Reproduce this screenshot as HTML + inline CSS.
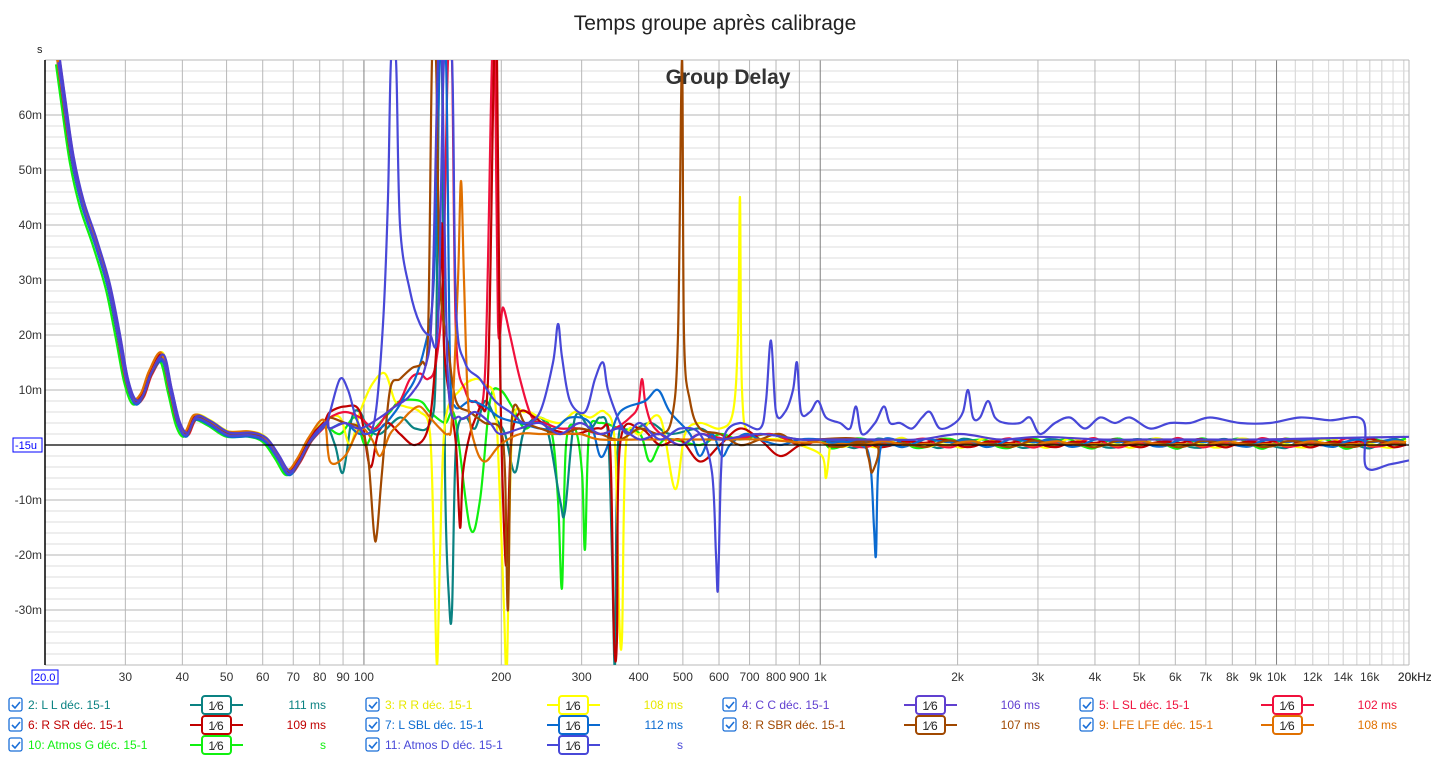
<!DOCTYPE html>
<html><head><meta charset="utf-8"><style>
body{margin:0;background:#fff;width:1431px;height:779px;overflow:hidden;font-family:"Liberation Sans",sans-serif}
svg text{font-family:"Liberation Sans",sans-serif}
</style></head><body>
<svg id="s" width="1431" height="779" xmlns="http://www.w3.org/2000/svg">
<text x="715" y="30" font-size="21" text-anchor="middle" fill="#222">Temps groupe après calibrage</text>
<g id="grid"></g>
<g id="curves" fill="none" stroke-width="2.2" stroke-linejoin="round"></g>
<line x1="45" y1="445" x2="1409" y2="445" stroke="#000" stroke-width="1.2"/>
<line x1="45" y1="60" x2="45" y2="665" stroke="#000" stroke-width="1.5"/>
<text x="728" y="84" font-size="21" font-weight="bold" text-anchor="middle" fill="#333">Group Delay</text>
<text x="37" y="53" font-size="11" fill="#222">s</text>
<rect x="13" y="438" width="29" height="14" fill="#fff" stroke="#00f"/>
<text x="15" y="449" font-size="11" fill="#00f">-15u</text>
<rect x="32" y="670" width="26" height="14" fill="#fff" stroke="#00f"/>
<text x="34" y="681" font-size="11" fill="#00f">20.0</text>
<g id="leg"></g>
</svg>
<script>
const NS="http://www.w3.org/2000/svg";
function el(p,t,a,txt){const e=document.createElementNS(NS,t);for(const k in a)e.setAttribute(k,a[k]);if(txt!==undefined)e.textContent=txt;p.appendChild(e);return e;}
const X0=45,K=456.3,Y0=445,S=5.5;
const fx=f=>X0+K*Math.log10(f/20);
const g=document.getElementById('grid');
for(let m=-38;m<=70;m+=2){const y=Y0-m*S;if(y<60||y>665)continue;el(g,'line',{x1:45,x2:1409,y1:y,y2:y,stroke:m%10==0?'#b4b4b4':'#dcdcdc','stroke-width':1});}
for(let m=-30;m<=60;m+=10){if(m==0)continue;el(g,'text',{x:42,y:Y0-m*S+4,'font-size':12,'text-anchor':'end',fill:'#333'},m+'m');}
const labs={30:'30',40:'40',50:'50',60:'60',70:'70',80:'80',90:'90',100:'100',200:'200',300:'300',400:'400',500:'500',600:'600',700:'700',800:'800',900:'900',1000:'1k',2000:'2k',3000:'3k',4000:'4k',5000:'5k',6000:'6k',7000:'7k',8000:'8k',9000:'9k',10000:'10k',12000:'12k',14000:'14k',16000:'16k',20000:'20kHz'};
const fs=[];for(let d=10;d<=10000;d*=10)for(let i=1;i<10;i++)fs.push(d*i);
fs.push(12000,14000,16000,20000);
for(const f of fs){if(f<=20||f>20000)continue;const x=fx(f);const major=[100,1000,10000].includes(f);
if(f<10000||major)el(g,'line',{x1:x,x2:x,y1:60,y2:665,stroke:major?'#808080':'#b8b8b8','stroke-width':1});
if(f>10000){for(const ff of[11000,12000,13000,14000,15000,16000,17000,18000,19000])el(g,'line',{x1:fx(ff),x2:fx(ff),y1:60,y2:665,stroke:'#dcdcdc'});}
if(labs[f])el(g,'text',{x:f==20000?x+1:x,y:681,'font-size':12,'text-anchor':'middle',fill:'#333'},labs[f]);}
el(g,'line',{x1:1409,x2:1409,y1:60,y2:665,stroke:'#b8b8b8'});
el(g,'line',{x1:45,x2:1409,y1:60,y2:60,stroke:'#b8b8b8'});
el(g,'line',{x1:45,x2:1409,y1:665,y2:665,stroke:'#b8b8b8'});
const start=[[58,70],[64,62],[72,52],[82,44],[95,37],[108,29],[118,20],[126,12],[134,8],[142,9],[150,13],[162,16],[170,10],[178,4],[186,2],[195,5],[210,4],[228,2],[250,2],[265,1],[277,-2],[288,-5],[298,-3],[310,1],[325,4]];
function jit(seed,off,a){const r=[];for(let x=830;x<=1409;x+=12){r.push([x,off+a*Math.sin(x*0.11+seed)*Math.sin(x*0.037+seed*2)]);}return r;}
const C={teal:'#0a8282',yel:'#ffff00',pur:'#5040d0',red:'#f0103c',dred:'#c00000',blue:'#0a6ad0',brown:'#a04800',orange:'#e07000',green:'#10f010',pur2:'#4848d8'};
const series=[
[C.green,[[340,2],[355,5],[365,0],[375,3],[390,6],[400,8],[420,8],[430,6],[445,4],[455,5],[470,-15],[480,-10],[490,8],[500,10],[512,7],[525,3],[540,5],[552,2],[558,-10],[562,-26],[566,0],[575,3],[582,-5],[585,-19],[589,2],[600,4],[620,3],[640,2],[650,-3],[665,1],[700,0],[720,2],[740,1],[770,2],[800,0],[820,1]].concat(jit(1,0.5,1.2))],
[C.teal,[[335,0],[343,-5],[352,5],[360,6],[368,3],[380,2],[400,5],[415,3],[430,4],[436,15],[439,70],[442,70],[445,-5],[449,-28],[452,-30],[456,0],[465,5],[475,3],[485,8],[495,5],[505,2],[515,-5],[525,3],[545,4],[560,-10],[565,-12],[575,5],[590,3],[600,5],[608,2],[612,-20],[615,-40],[618,0],[630,2],[650,4],[670,2],[700,3],[720,1],[760,2],[800,1],[820,1]].concat(jit(2,0.3,1.0))],
[C.yel,[[340,5],[350,0],[360,6],[372,11],[385,13],[395,8],[405,7],[420,6],[430,2],[434,-20],[437,-40],[440,-20],[445,4],[460,10],[475,12],[485,11],[495,8],[500,-10],[504,-30],[507,-40],[512,2],[525,6],[540,5],[560,4],[575,6],[590,5],[605,6],[615,0],[619,-30],[622,-35],[626,0],[640,2],[660,5],[675,-8],[685,2],[700,4],[720,3],[733,6],[738,20],[740,45],[742,10],[750,2],[780,1],[800,0],[822,-2],[826,-6],[830,0]].concat(jit(3,0.2,1.1))],
[C.red,[[330,5],[345,6],[360,5],[375,3],[388,6],[400,8],[410,12],[420,13],[428,12],[436,15],[443,30],[448,70],[452,70],[456,20],[465,10],[475,8],[485,13],[492,70],[495,70],[498,22],[503,25],[510,20],[520,12],[532,5],[545,4],[560,3],[580,3],[600,2],[615,3],[630,5],[638,7],[642,12],[646,7],[655,3],[680,0],[700,2],[730,1],[770,2],[800,0],[820,1]].concat(jit(4,0.3,1.0))],
[C.dred,[[330,6],[345,7],[360,6],[370,-4],[378,2],[388,4],[400,2],[415,0],[428,3],[435,14],[440,30],[442,40],[444,18],[450,8],[456,0],[460,-15],[463,-5],[470,2],[480,7],[488,12],[494,70],[497,70],[500,15],[504,-15],[507,-21],[511,0],[520,6],[535,5],[550,3],[575,2],[600,3],[610,0],[614,-35],[617,-35],[620,0],[640,3],[660,0],[680,1],[700,-3],[720,0],[740,3],[760,1],[780,-2],[800,0],[820,1]].concat(jit(5,0.4,0.9))],
[C.blue,[[330,3],[345,4],[360,2],[380,3],[395,6],[405,9],[415,12],[425,18],[432,25],[436,40],[440,70],[446,70],[450,15],[455,7],[470,8],[485,7],[500,5],[520,4],[540,3],[555,3],[570,5],[590,4],[600,-2],[608,0],[620,6],[645,8],[658,10],[670,6],[690,2],[700,-2],[712,2],[722,-2],[730,0],[745,2],[760,1],[780,0],[800,1],[820,1],[860,0],[870,-3],[874,-15],[876,-20],[878,-5],[884,1],[900,0]].concat(jit(6,0.5,0.9))],
[C.brown,[[330,5],[345,4],[360,3],[368,-2],[374,-16],[377,-16],[382,-5],[390,10],[400,12],[412,14],[422,15],[428,20],[432,70],[436,70],[440,30],[448,18],[456,8],[470,6],[485,4],[500,3],[505,-5],[508,-30],[512,5],[525,4],[540,3],[560,2],[580,3],[600,2],[620,1],[640,3],[660,2],[672,5],[678,20],[682,70],[684,20],[690,8],[700,3],[720,2],[740,0],[760,1],[780,2],[800,0],[820,1],[860,1],[868,-2],[872,-5],[876,0]].concat(jit(7,0.2,0.7))],
[C.orange,[[330,-3],[345,-2],[360,3],[372,1],[380,-2],[390,2],[400,4],[410,6],[420,7],[430,5],[440,3],[448,2],[452,5],[458,30],[461,48],[464,30],[468,8],[475,0],[485,-3],[500,0],[520,2],[540,2],[560,2],[580,2],[600,1],[640,1],[680,1],[720,1],[760,1],[800,0.5],[820,0.5]].concat(jit(8,0.2,0.5))],
[C.pur2,[[330,6],[340,12],[348,10],[356,5],[365,2],[375,5],[383,22],[388,45],[391,70],[396,70],[400,40],[410,28],[420,22],[430,20],[438,22],[444,70],[452,70],[456,25],[465,15],[480,12],[495,8],[510,6],[525,4],[540,6],[553,15],[558,22],[562,16],[570,8],[585,6],[595,12],[603,15],[608,10],[620,4],[628,2],[640,4],[660,1],[680,3],[700,2],[712,-5],[716,-20],[718,-26],[721,-5],[725,2],[740,4],[760,3],[766,8],[771,19],[776,6],[785,6],[793,10],[797,15],[801,6],[810,6],[818,8],[826,5],[840,4],[850,3],[856,7],[862,2],[875,4],[884,7],[890,4],[900,4],[912,3],[922,5],[930,6],[940,3],[955,4],[963,6],[968,10],[973,5],[980,5],[988,8],[995,5],[1005,4],[1020,4],[1030,5],[1040,2],[1055,4],[1070,5],[1085,3],[1100,5],[1115,4],[1130,5],[1150,3],[1170,4],[1190,4],[1210,5],[1240,4],[1270,4],[1300,5],[1330,4.5],[1363,4.5],[1366,-4],[1390,-3.5],[1409,-2.8]]],
[C.pur,[[330,3],[345,4],[360,3],[380,5],[395,7],[410,9],[425,14],[432,25],[438,70],[442,70],[448,12],[460,5],[475,6],[490,4],[500,2],[520,3],[540,4],[560,2],[580,4],[600,2],[620,3],[640,1],[660,2],[680,0],[700,2],[720,1],[760,2],[800,1],[820,1],[840,1],[880,1],[920,1],[960,2],[1000,1],[1040,1.5],[1100,1],[1150,1],[1200,1],[1260,1],[1320,1.2],[1409,1.5]]]
];
const cg=document.getElementById('curves');
function path(pts){pts=pts.map(p=>[p[0],Math.max(58,Math.min(667,Y0-p[1]*S))]);let d='M'+pts[0][0]+' '+pts[0][1];
for(let i=0;i<pts.length-1;i++){const p0=pts[i-1]||pts[i],p1=pts[i],p2=pts[i+1],p3=pts[i+2]||p2;
const c1=[p1[0]+(p2[0]-p0[0])/6,p1[1]+(p2[1]-p0[1])/6],c2=[p2[0]-(p3[0]-p1[0])/6,p2[1]-(p3[1]-p1[1])/6];
d+=`C${c1[0].toFixed(1)} ${c1[1].toFixed(1)} ${c2[0].toFixed(1)} ${c2[1].toFixed(1)} ${p2[0].toFixed(1)} ${p2[1].toFixed(1)}`;}return d;}
series.forEach((s,i)=>{const st=start.map(p=>[p[0]+((i*1.3)%4)-2,p[1]+((i*7)%5-2)*0.4*(p[1]>15?1:0.6)]);
el(cg,'path',{d:path(st.concat(s[1])),stroke:s[0]});});
const cp=document.createElementNS(NS,'clipPath');cp.id='c';el(cp,'rect',{x:45,y:60,width:1364,height:605});document.querySelector('svg').appendChild(cp);cg.setAttribute('clip-path','url(#c)');
const L=document.getElementById('leg');
const legs=[
[0,0,'2: L L déc. 15-1','#0a8282','111 ms'],[1,0,'3: R R déc. 15-1','#ffff00','108 ms'],[2,0,'4: C C déc. 15-1','#6040d0','106 ms'],[3,0,'5: L SL déc. 15-1','#f0103c','102 ms'],
[0,1,'6: R SR déc. 15-1','#c00000','109 ms'],[1,1,'7: L SBL déc. 15-1','#0a6ad0','112 ms'],[2,1,'8: R SBR déc. 15-1','#a04800','107 ms'],[3,1,'9: LFE LFE déc. 15-1','#e07000','108 ms'],
[0,2,'10: Atmos G déc. 15-1','#10f010','s'],[1,2,'11: Atmos D déc. 15-1','#4848d8','s']];
for(const[c,r,t,col,v]of legs){const x=8+c*357,y=705+r*20;
el(L,'rect',{x:x+1,y:y-7,width:13,height:13,rx:2,fill:'#fff',stroke:'#1a6fd8','stroke-width':1.3});
el(L,'path',{d:`M${x+4} ${y} l3 3 l5 -6`,stroke:'#1a6fd8','stroke-width':1.6,fill:'none'});
el(L,'text',{x:x+20,y:y+4,'font-size':12,fill:col==='#ffff00'?'#e8e800':col},t);
el(L,'line',{x1:x+182,x2:x+235,y1:y,y2:y,stroke:col,'stroke-width':2});
el(L,'rect',{x:x+194,y:y-9,width:29,height:18,rx:3,fill:'#fff',stroke:col,'stroke-width':2});
el(L,'text',{x:x+208,y:y+5,'font-size':12,'text-anchor':'middle',fill:'#222'},'1⁄6');
el(L,'text',{x:x+318,y:y+4,'font-size':12,'text-anchor':'end',fill:col==='#ffff00'?'#e8e800':col},v);}
</script>
</body></html>
